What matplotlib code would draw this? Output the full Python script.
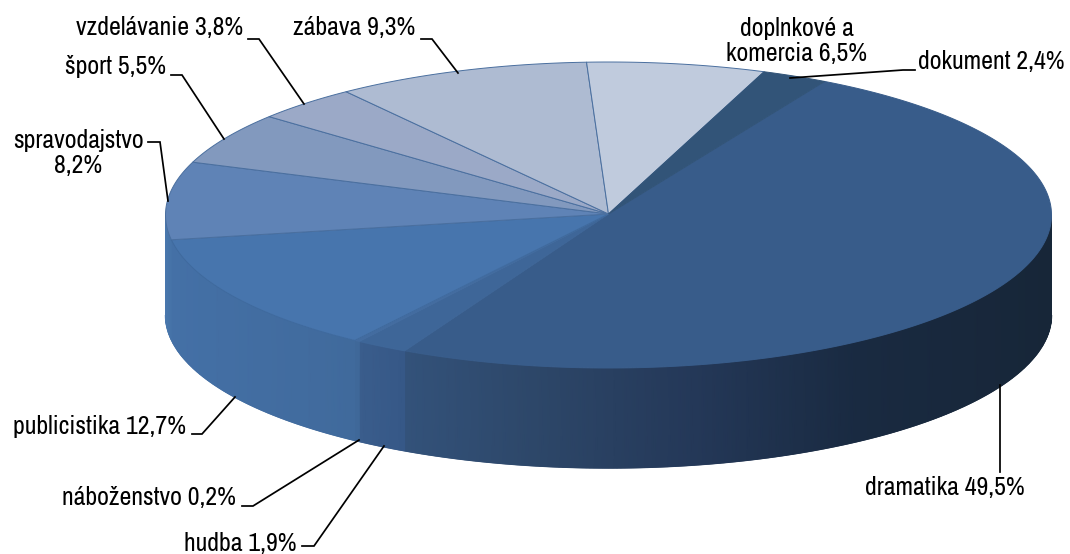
import numpy as np
import matplotlib
matplotlib.use("Agg")
import matplotlib.pyplot as plt
from matplotlib.colors import LinearSegmentedColormap
from matplotlib.collections import LineCollection

categories = ["dramatika", "hudba", "náboženstvo", "publicistika", "spravodajstvo",
              "šport", "vzdelávanie", "zábava", "doplnkové a komercia", "dokument"]
shares = [49.5, 1.9, 0.2, 12.7, 8.2, 5.5, 3.8, 9.3, 6.5, 2.4]
top_colors = ["#385C8A", "#3E6698", "#436CA0", "#4775AD", "#5F83B6",
              "#8299BE", "#9BA9C7", "#AEBBD2", "#C0CBDD", "#325478"]
edge_colors = ["#385C8A", "#3E6698", "#436CA0", "#3F6A9E", "#4A6F9F",
               "#4A6F9F", "#4A6F9F", "#4A6F9F", "#4A6F9F", "#325478"]
side_stops = {
    "dramatika": [(0, "#33527A"), (0.2, "#2D4769"), (0.45, "#243858"), (0.7, "#192A41"), (1, "#172638")],
    "hudba": [(0, "#3A5D8C"), (1, "#365887")],
    "náboženstvo": [(0, "#3F6899"), (1, "#3F6899")],
    "publicistika": [(0, "#4470A6"), (1, "#406A9C")],
    "spravodajstvo": [(0, "#4A78AE"), (1, "#4673A8")],
}
label_text = ["dramatika 49,5%", "hudba 1,9%", "náboženstvo 0,2%", "publicistika 12,7%",
              "spravodajstvo\n8,2%", "šport 5,5%", "vzdelávanie 3,8%", "zábava 9,3%",
              "doplnkové a\nkomercia 6,5%", "dokument 2,4%"]
label_pos = [(945, 488, "center"), (296, 544, "right"), (236, 497, "right"), (186, 427, "right"),
             (78, 153, "center"), (166, 67, "right"), (243, 27, "right"), (415, 27, "right"),
             (797, 41, "center"), (918, 62, "left")]
leaders = [
    [(1000, 472), (1000, 385)],
    [(302, 546), (314, 546), (384, 446)],
    [(242, 506), (253, 506), (359, 440)],
    [(192, 434), (202, 434), (235, 397)],
    [(148, 142), (160, 142), (168, 201)],
    [(171, 75), (182, 75), (224, 139)],
    [(248, 39), (259, 39), (304, 104)],
    [(421, 39), (432, 39), (458, 73)],
    None,
    [(915, 70), (903, 70), (790, 78)],
]

CX, CY, RX, RY, DEPTH = 608.5, 215, 443, 153, 100
START = 60.8

plt.rcParams["font.family"] = ["Archivo Narrow", "Liberation Sans", "DejaVu Sans"]
fig = plt.figure(figsize=(10.7, 5.54), dpi=100)
ax = fig.add_axes([0, 0, 1, 1])
ax.set_xlim(0, 1070)
ax.set_ylim(554, 0)
ax.axis("off")


def rim(a):
    r = np.radians(a)
    return CX + RX * np.cos(r), CY - RY * np.sin(r)


edges = START - np.concatenate([[0], np.cumsum(shares)]) * 3.6
for i, cat in enumerate(categories):
    if cat not in side_stops:
        continue
    lo, hi = max(edges[i + 1], -180), min(edges[i], 0)
    angs = np.append(np.arange(lo, hi, 0.5), hi)
    xs, ys = rim(angs)
    cmap = LinearSegmentedColormap.from_list(cat, side_stops[cat])
    span = max(xs.max() - xs.min(), 1)
    t = (xs - xs.min()) / span
    X = np.vstack([xs, xs])
    Y = np.vstack([ys, ys + DEPTH])
    ax.pcolormesh(X, Y, np.vstack([t, t]), cmap=cmap, vmin=0, vmax=1, shading="gouraud", zorder=2)
    segs = [[(xs[j], ys[j] + DEPTH), (xs[j + 1], ys[j + 1] + DEPTH)] for j in range(len(xs) - 1)]
    ax.add_collection(LineCollection(segs, colors=cmap(t[:-1]), linewidths=1.0, zorder=2.5))

for i, cat in enumerate(categories):
    angs = np.linspace(edges[i], edges[i + 1], max(int(shares[i] * 8), 4))
    xs, ys = rim(angs)
    ax.fill(np.r_[CX, xs], np.r_[CY - 1, ys], facecolor=top_colors[i], edgecolor=edge_colors[i],
            lw=0.7, zorder=3, joinstyle="round")

for pts in leaders:
    if pts:
        ax.plot(*zip(*pts), color="black", lw=1.25, zorder=4, solid_joinstyle="miter")
for txt, (x, y, ha) in zip(label_text, label_pos):
    ax.text(x, y, txt, ha=ha, va="center", fontsize=18.6, color="black", zorder=5,
            linespacing=1.1, multialignment="center")

fig.savefig("out.png", dpi=100, facecolor="white")
